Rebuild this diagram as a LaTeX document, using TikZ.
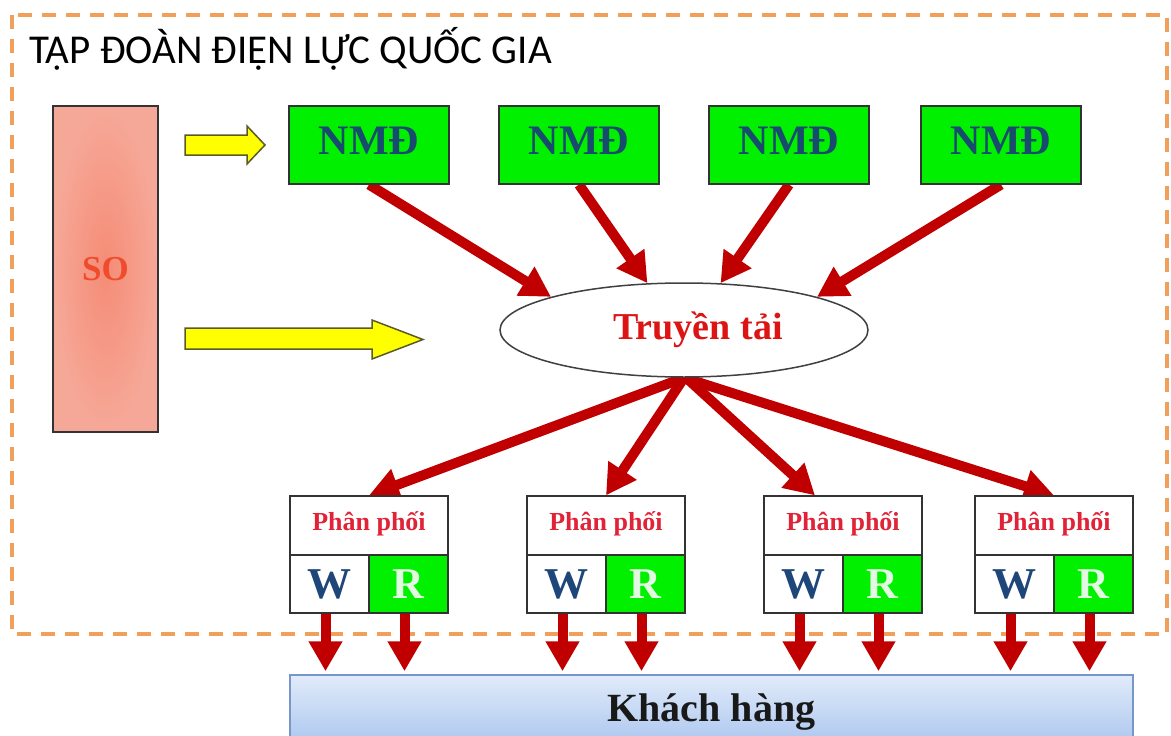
\documentclass[tikz,border=0pt]{standalone}
\usepackage{fontspec}
\setmainfont{Liberation Serif}
\newfontfamily\titlefont{Carlito}
\usetikzlibrary{arrows.meta,shapes.geometric,backgrounds}

\definecolor{orangeline}{RGB}{240,160,90}
\definecolor{darkred}{RGB}{192,0,0}
\definecolor{boxgreen}{RGB}{0,240,0}
\definecolor{nmdblue}{RGB}{25,75,110}
\definecolor{wblue}{RGB}{30,70,120}
\definecolor{rpale}{RGB}{225,250,225}
\definecolor{ppred}{RGB}{225,35,55}
\definecolor{ttred}{RGB}{220,20,20}
\definecolor{sotext}{RGB}{240,75,45}
\definecolor{sofill}{RGB}{246,168,152}
\definecolor{socore}{RGB}{245,140,118}
\definecolor{yfill}{RGB}{255,255,0}
\definecolor{yline}{RGB}{90,90,40}
\definecolor{khtop}{RGB}{225,235,250}
\definecolor{khbot}{RGB}{168,196,238}
\definecolor{khline}{RGB}{120,150,200}

\tikzset{
  frame/.style={draw=orangeline, line width=4pt, dash pattern=on 14pt off 10pt},
  sobox/.style={draw=black!80, line width=1.5pt, inner color=socore, outer color=sofill,
    minimum width=105pt, minimum height=326pt, inner sep=0pt, text=sotext,
    font=\bfseries\fontsize{35}{40}\selectfont},
  yarrow/.style={fill=yfill, draw=yline, line width=1.5pt, line join=miter},
  nmd/.style={draw=black!80, line width=1.2pt, fill=boxgreen, minimum width=160pt,
    minimum height=78pt, inner sep=0pt, text=nmdblue, text depth=8pt,
    font=\bfseries\fontsize{42}{46}\selectfont},
  grid/.style={ellipse, draw=black!75, line width=1.5pt, fill=white, minimum width=368pt,
    minimum height=94pt, inner sep=0pt, text=ttred, font=\bfseries\fontsize{38}{42}\selectfont},
  pphead/.style={draw=black!80, line width=1.2pt, fill=white, minimum width=158pt,
    minimum height=59pt, inner sep=0pt, text=ppred, text depth=9pt,
    font=\bfseries\fontsize{26}{30}\selectfont},
  wcell/.style={draw=black!80, line width=1.2pt, fill=white, minimum width=79pt,
    minimum height=58pt, inner sep=0pt, text=wblue, font=\bfseries\fontsize{44}{48}\selectfont},
  rcell/.style={wcell, fill=boxgreen, text=rpale},
  custbar/.style={draw=khline, line width=1.5pt, top color=khtop, bottom color=khbot,
    minimum width=843pt, minimum height=74pt, inner sep=0pt, text=black!90,
    font=\bfseries\fontsize{40}{44}\selectfont},
  redarr/.style={draw=darkred, line width=10pt, -{Triangle[length=30pt 0, width=32pt 0]}}
}

\begin{document}
\begin{tikzpicture}[x=1pt, y=-1pt]
\useasboundingbox (0,0) rectangle (1171,736);

% title
\node[anchor=base west, inner sep=0pt, font=\titlefont\fontsize{41}{48}\selectfont] (title)
  at (29,63) {TẬP ĐOÀN ĐIỆN LỰC QUỐC GIA};

% system operator
\node[sobox] (so) at (105.5,269) {SO};

% power plants
\node[nmd] (n1) at (369,145) {NMĐ};
\node[nmd] (n2) at (579,145) {NMĐ};
\node[nmd] (n3) at (789,145) {NMĐ};
\node[nmd] (n4) at (1001,145) {NMĐ};

% transmission
\node[grid] (t) at (684,330) {\hspace{28pt}Truyền tải};

% distribution units: header, wholesale and retail cells
\foreach \i/\x in {1/290, 2/527, 3/764, 4/975}{
  \node[pphead] (p\i) at (\x+79,525.5) {Phân phối};
  \node[wcell] (w\i) at (\x+39.5,584) {W};
  \node[rcell] (r\i) at (\x+118.5,584) {R};
}

% customers
\node[custbar] (kh) at (711.5,712) {Khách hàng};

% dispatch arrows from the system operator
\draw[yarrow] (185,135) -- (247,135) -- (247,126) -- (265,145) -- (247,164)
  -- (247,155) -- (185,155) -- cycle;
\draw[yarrow] (185,328) -- (372,328) -- (372,320) -- (423,339.5) -- (372,359)
  -- (372,349) -- (185,349) -- cycle;

\begin{scope}[on background layer]
  % group boundary
  \draw[frame] (12,15) rectangle (1167,634);
  % generation into the grid
  \draw[redarr] (n1.south) -- (t.166);
  \draw[redarr] (n2.south) -- (t.128);
  \draw[redarr] (n3.south) -- (t.52);
  \draw[redarr] (n4.south) -- (t.14);
  % grid to distribution
  \draw[redarr] (t.south) -- (p1.north);
  \draw[redarr] (t.south) -- (p2.north);
  \draw[redarr] ([yshift=2pt]t.south) -- ([xshift=-28pt]p3.north);
  \draw[redarr] (t.south) -- (p4.north);
  % distribution to customers
  \foreach \i in {1,2,3,4}{
    \draw[redarr, shorten >=3pt] ([xshift=-4pt]w\i.south) -- ([xshift=-4pt]w\i.south |- kh.north);
    \draw[redarr, shorten >=3pt] ([xshift=-4pt]r\i.south) -- ([xshift=-4pt]r\i.south |- kh.north);
  }
\end{scope}
\end{tikzpicture}
\end{document}
